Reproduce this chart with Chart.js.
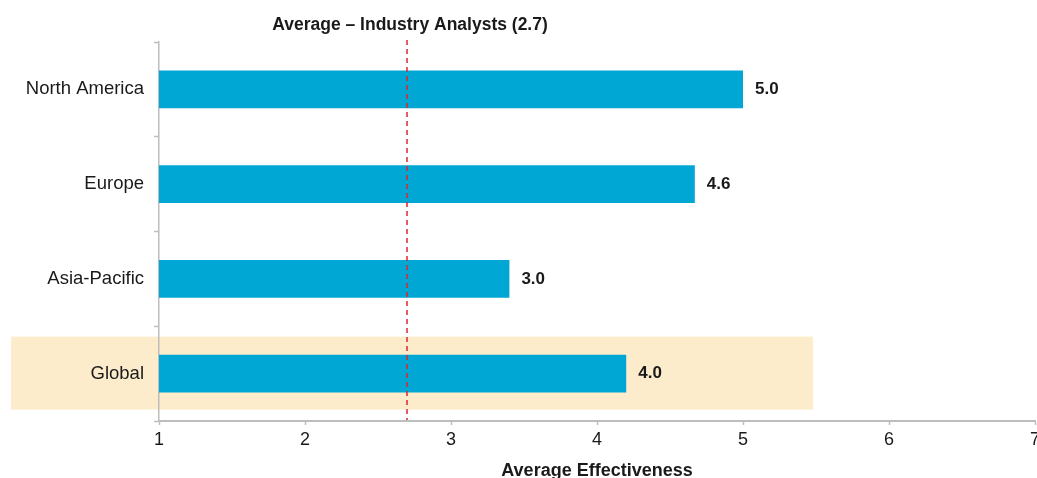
<!DOCTYPE html>
<html>
<head>
<meta charset="utf-8">
<script src="https://cdn.jsdelivr.net/npm/chart.js@4/dist/chart.umd.min.js"></script>
<style>
  html, body { margin: 0; padding: 0; background: #fff; }
  #wrap { width: 1037px; height: 478px; }
</style>
</head>
<body>
<div id="wrap"><canvas id="effChart" width="1037" height="478"></canvas></div>
<script>
// data
const regions = ['North America', 'Europe', 'Asia-Pacific', 'Global'];
const barValues = [5.0, 4.67, 3.4, 4.2];
const valueLabels = ['5.0', '4.6', '3.0', '4.0'];
const xTicks = [1, 2, 3, 4, 5, 6, 7];
const analystAvg = 2.7;
const analystLabel = 'Average \u2013 Industry Analysts (2.7)';
const highlightRegion = 'Global';
const highlightEnd = 5.48;

const FONT = '"Liberation Sans", Arial, Helvetica, sans-serif';
const TEXT = '#1a1a1a';

// highlight band, average line, value labels
const extras = {
	id: 'extras',
	beforeDraw(chart) {
		const {ctx} = chart;
		const x = chart.scales.x, y = chart.scales.y;
		const idx = regions.indexOf(highlightRegion);
		const yc = y.getPixelForValue(idx);
		ctx.save();
		ctx.fillStyle = '#fdeccb';
		ctx.fillRect(11, yc - 37, x.getPixelForValue(highlightEnd) - 11, 73);
		ctx.restore();
	},
	afterDatasetsDraw(chart) {
		const {ctx} = chart;
		const x = chart.scales.x, y = chart.scales.y;
		const meta = chart.getDatasetMeta(0);
		ctx.save();
		ctx.fillStyle = TEXT;
		ctx.font = 'bold 17px ' + FONT;
		ctx.textAlign = 'left';
		ctx.textBaseline = 'middle';
		meta.data.forEach((bar, i) => {
			ctx.fillText(valueLabels[i], bar.x + 12, bar.y);
		});
		// average line
		const ax = Math.round(x.getPixelForValue(analystAvg));
		ctx.strokeStyle = '#e0252d';
		ctx.lineWidth = 1.5;
		ctx.setLineDash([5, 4]);
		ctx.beginPath();
		ctx.moveTo(ax, 40);
		ctx.lineTo(ax, y.bottom - 1);
		ctx.stroke();
		ctx.setLineDash([]);
		ctx.font = 'bold 17.5px ' + FONT;
		ctx.textAlign = 'center';
		ctx.fillText(analystLabel, ax + 3, 25);
		ctx.restore();
	}
};

new Chart(document.getElementById('effChart'), {
	type: 'bar',
	data: {
		labels: regions,
		datasets: [{
			data: barValues,
			backgroundColor: '#00a6d4',
			borderWidth: 0,
			barPercentage: 0.4,
			categoryPercentage: 1
		}]
	},
	options: {
		indexAxis: 'y',
		responsive: false,
		animation: false,
		layout: { padding: { top: 42, right: 2, left: 0, bottom: 0 } },
		plugins: {
			legend: { display: false },
			tooltip: { enabled: false }
		},
		scales: {
			x: {
				type: 'linear',
				min: xTicks[0],
				max: xTicks[xTicks.length - 1],
				afterBuildTicks: (scale) => { scale.ticks = xTicks.map(v => ({value: v})); },
				afterFit: (scale) => { scale.height = 57; scale.paddingLeft = 0; scale.paddingRight = 0; },
				grid: { display: true, drawOnChartArea: false, tickLength: 4, color: '#bdbdbd', tickWidth: 1.5 },
				border: { display: true, color: '#bdbdbd', width: 2 },
				ticks: { color: TEXT, padding: 4, font: { family: FONT, size: 18 }, maxRotation: 0 },
				title: {
					display: true,
					text: 'Average Effectiveness',
					color: TEXT,
					font: { family: FONT, size: 18, weight: 'bold' },
					padding: { top: 0, bottom: -4 }
				}
			},
			y: {
				afterFit: (scale) => { scale.width = 159; },
				grid: { display: true, drawOnChartArea: false, offset: true, tickLength: 5, color: '#bdbdbd', tickWidth: 1.5 },
				border: { display: true, color: '#bdbdbd', width: 1.5 },
				ticks: { color: TEXT, padding: 10, font: { family: FONT, size: 18.5 } }
			}
		}
	},
	plugins: [extras]
});
</script>
</body>
</html>
